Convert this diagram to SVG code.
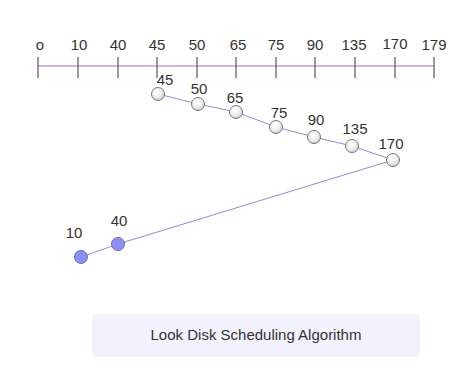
<svg xmlns="http://www.w3.org/2000/svg" width="474" height="383" viewBox="0 0 474 383">
<defs>
<radialGradient id="g" cx="0.4" cy="0.35" r="0.7">
<stop offset="0" stop-color="#ffffff"/>
<stop offset="0.6" stop-color="#ececec"/>
<stop offset="1" stop-color="#c8c8c8"/>
</radialGradient>
<style>
text{font-family:"Liberation Sans",Arial,sans-serif;font-size:15px;fill:#333;text-anchor:middle}
.tick{stroke:#555;stroke-width:1.2}
.axis{stroke:#c79bd6;stroke-width:1.5}
.edge{stroke:#8d8cd6;stroke-width:1;fill:none}
.gn{fill:url(#g);stroke:#777;stroke-width:1}
.bn{fill:#8f8ff2;stroke:#6a6ac4;stroke-width:1}
</style>
</defs>
<rect width="474" height="383" fill="#ffffff"/>
<g id="axis">
<line class="axis" x1="38" y1="66" x2="434" y2="66"/>
<line class="tick" x1="38" y1="57" x2="38" y2="78"/>
<line class="tick" x1="78" y1="57" x2="78" y2="78"/>
<line class="tick" x1="118" y1="57" x2="118" y2="78"/>
<line class="tick" x1="157" y1="57" x2="157" y2="78"/>
<line class="tick" x1="197" y1="57" x2="197" y2="78"/>
<line class="tick" x1="236" y1="57" x2="236" y2="78"/>
<line class="tick" x1="276" y1="57" x2="276" y2="78"/>
<line class="tick" x1="315" y1="57" x2="315" y2="78"/>
<line class="tick" x1="355" y1="57" x2="355" y2="78"/>
<line class="tick" x1="395" y1="57" x2="395" y2="78"/>
<line class="tick" x1="434" y1="57" x2="434" y2="78"/>
<text x="40" y="50">o</text>
<text x="79" y="50">10</text>
<text x="118" y="50">40</text>
<text x="157" y="50">45</text>
<text x="197" y="50">50</text>
<text x="238" y="50">65</text>
<text x="276" y="50">75</text>
<text x="315" y="50">90</text>
<text x="354" y="50">135</text>
<text x="395" y="49">170</text>
<text x="434" y="50">179</text>
</g>
<g id="connectors">
<polyline class="edge" points="158,94 198,104 236,112 276,127 314,137 352,146 393,160 118,244 81,257"/>
</g>
<g id="n45"><circle class="gn" cx="158" cy="94" r="6.5"/><text x="165" y="85">45</text></g>
<g id="n50"><circle class="gn" cx="198" cy="104" r="6.5"/><text x="199" y="94">50</text></g>
<g id="n65"><circle class="gn" cx="236" cy="112" r="6.5"/><text x="235" y="103">65</text></g>
<g id="n75"><circle class="gn" cx="276" cy="127" r="6.5"/><text x="279" y="118">75</text></g>
<g id="n90"><circle class="gn" cx="314" cy="137" r="6.5"/><text x="316" y="125">90</text></g>
<g id="n135"><circle class="gn" cx="352" cy="146" r="6.5"/><text x="355" y="134">135</text></g>
<g id="n170"><circle class="gn" cx="393" cy="160" r="6.5"/><text x="391" y="149">170</text></g>
<g id="n40"><circle class="bn" cx="118" cy="244" r="6.5"/><text x="119" y="226">40</text></g>
<g id="n10"><circle class="bn" cx="81" cy="257" r="6.5"/><text x="74" y="238">10</text></g>
<g id="title">
<rect x="92" y="314" width="328" height="43" rx="4" fill="#f2f1fd"/>
<text x="256" y="340">Look Disk Scheduling Algorithm</text>
</g>
</svg>
